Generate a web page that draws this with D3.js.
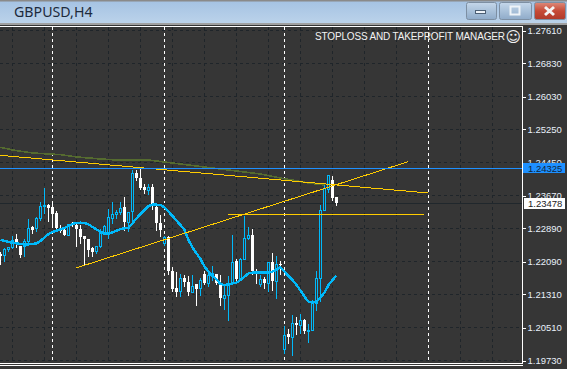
<!DOCTYPE html>
<html>
<head>
<meta charset="utf-8">
<title>GBPUSD,H4</title>
<script src="https://cdn.jsdelivr.net/npm/d3@7"></script>
<style>
  html, body { margin: 0; padding: 0; background: #363636; overflow: hidden; }
  svg { display: block; }
  text { font-family: "Liberation Sans", Arial, sans-serif; }
</style>
</head>
<body>
<div id="chart"></div>
<script>
const opens = [1.22265,1.22226,1.22369,1.22432,1.22608,1.22448,1.22464,1.22568,1.22894,1.22886,1.23117,1.23404,1.23443,1.23388,1.23244,1.22870,1.22830,1.22703,1.23006,1.22958,1.22870,1.22687,1.22608,1.22409,1.22329,1.22448,1.22727,1.22727,1.23125,1.23205,1.23268,1.23380,1.23022,1.23284,1.24184,1.24080,1.23865,1.23778,1.23865,1.23380,1.23006,1.22512,1.22671,1.21851,1.21453,1.21374,1.21692,1.21597,1.21358,1.21533,1.21453,1.21772,1.21557,1.21732,1.21772,1.21533,1.21215,1.21294,1.21557,1.22090,1.21692,1.22130,1.22639,1.22719,1.21851,1.21533,1.21676,1.21557,1.22074,1.21613,1.22027,1.19997,1.20339,1.20283,1.20618,1.20562,1.20697,1.20419,1.20442,1.21095,1.21692,1.23308,1.23817,1.24040,1.23611];
const highs = [1.22329,1.22432,1.22464,1.22703,1.22751,1.22488,1.22647,1.23125,1.22942,1.23165,1.23523,1.23865,1.23483,1.23523,1.23308,1.22966,1.22926,1.23006,1.23045,1.23006,1.22966,1.22703,1.22647,1.22464,1.22488,1.22886,1.22966,1.23364,1.23523,1.23324,1.23523,1.23642,1.23284,1.24295,1.24279,1.24319,1.23961,1.23945,1.23945,1.23483,1.23205,1.22703,1.22703,1.21971,1.21851,1.21796,1.21772,1.21748,1.21772,1.21573,1.21716,1.21891,1.21851,1.21987,1.21812,1.21772,1.21533,1.21748,1.22727,1.22170,1.22194,1.23181,1.22926,1.22886,1.21931,1.21772,1.21732,1.22090,1.22313,1.22249,1.22106,1.20554,1.20498,1.20840,1.20777,1.20856,1.20737,1.20618,1.21175,1.21891,1.23459,1.23977,1.24160,1.24136,1.23618];
const lows = [1.22034,1.22090,1.22329,1.22409,1.22432,1.22194,1.22210,1.22528,1.22751,1.22807,1.23069,1.23244,1.23045,1.22966,1.22807,1.22783,1.22703,1.22703,1.22926,1.22464,1.22512,1.21987,1.22210,1.22210,1.22289,1.22432,1.22727,1.22647,1.23006,1.23125,1.23205,1.22846,1.22807,1.23045,1.24040,1.23802,1.23722,1.23682,1.23324,1.22830,1.22687,1.22488,1.21772,1.21374,1.21254,1.21270,1.21493,1.21294,1.21350,1.21055,1.21294,1.21533,1.21493,1.21652,1.21533,1.21055,1.20936,1.20697,1.21557,1.21613,1.21668,1.22130,1.22608,1.21772,1.21573,1.21493,1.21453,1.21374,1.21398,1.21215,1.21772,1.19901,1.20124,1.19861,1.20339,1.20363,1.20363,1.20156,1.20442,1.20920,1.21135,1.23308,1.23738,1.23547,1.23443];
const closes = [1.22210,1.22385,1.22432,1.22592,1.22512,1.22226,1.22568,1.22886,1.22830,1.23117,1.23419,1.23427,1.23356,1.23220,1.22886,1.22807,1.22703,1.22966,1.22942,1.22870,1.22671,1.22608,1.22353,1.22305,1.22464,1.22767,1.22926,1.23149,1.23220,1.23268,1.23364,1.23022,1.23260,1.24184,1.24080,1.23841,1.23778,1.23865,1.23443,1.22990,1.22830,1.22671,1.21851,1.21437,1.21350,1.21692,1.21589,1.21358,1.21493,1.21437,1.21636,1.21557,1.21748,1.21812,1.21557,1.21215,1.21294,1.21557,1.22074,1.21668,1.22146,1.22647,1.22719,1.21851,1.21772,1.21676,1.21557,1.22074,1.21613,1.22027,1.21987,1.20323,1.20275,1.20618,1.20562,1.20697,1.20419,1.20458,1.21095,1.21692,1.23308,1.23841,1.24152,1.23587,1.23478];

// blue moving average, one value per candle
const maFast = [1.22608,1.22584,1.22560,1.22544,1.22528,1.22512,1.22504,1.22504,1.22512,1.22528,1.22584,1.22671,1.22751,1.22799,1.22830,1.22862,1.22894,1.22942,1.22990,1.23014,1.23022,1.23014,1.22982,1.22918,1.22862,1.22799,1.22767,1.22767,1.22791,1.22830,1.22870,1.22886,1.22894,1.23006,1.23125,1.23228,1.23324,1.23419,1.23451,1.23451,1.23443,1.23388,1.23284,1.23181,1.23069,1.22966,1.22846,1.22608,1.22432,1.22289,1.22154,1.21971,1.21851,1.21748,1.21668,1.21557,1.21533,1.21549,1.21573,1.21589,1.21652,1.21732,1.21812,1.21828,1.21828,1.21828,1.21828,1.21828,1.21851,1.21907,1.21955,1.21851,1.21748,1.21652,1.21533,1.21398,1.21254,1.21135,1.21111,1.21135,1.21238,1.21350,1.21533,1.21652,1.21756];

// olive moving average, read at a handful of candles
const maSlowIndex = [0,3,8,15,19,25,29,34,37,43,53,61,65,70,77,81];
const maSlowValue = [1.24821,1.24757,1.24685,1.24645,1.24590,1.24542,1.24518,1.24518,1.24518,1.24446,1.24327,1.24231,1.24184,1.24088,1.23969,1.23921];

const priceTicks = [1.2761,1.2683,1.2603,1.2525,1.2445,1.2367,1.2289,1.2209,1.2131,1.2051,1.1973];
const gridIndex = d3.range(3, 131, 8);
const periodIndex = [13, 41, 71, 107];

const trendA = [[-0.125, 1.24630], [106.9, 1.23730]];
const trendB = [[18.9, 1.21939], [101.9, 1.24477]];
const trendC = [[56.9, 1.23217], [105.9, 1.23217]];

const bidPrice = 1.24325;
const lastPrice = 1.23478;

const width = 567;
const height = 369;
const plotRight = 522.5;
const bg = "#363636";

const x = d3.scaleLinear().domain([0, 130.5]).range([0.5, plotRight]);
const y = d3.scaleLinear().domain([1.1973, 1.2761]).range([360.5, 30.5]);
const snap = (v) => Math.round(v - 0.5) + 0.5;

const svg = d3.select("#chart").append("svg").attr("width", width).attr("height", height);

const defs = svg.append("defs");
function gradient(id, stops) {
  const g = defs.append("linearGradient").attr("id", id).attr("x1", 0).attr("y1", 0).attr("x2", 0).attr("y2", 1);
  stops.forEach((s, i) => g.append("stop").attr("offset", i / (stops.length - 1)).attr("stop-color", s));
}
gradient("titleGrad", ["#a4c2e3", "#bcd3ea"]);
gradient("btnGrad", ["#c5d7ea", "#a9c1da", "#8fabc9"]);
gradient("closeGrad", ["#dd8a7a", "#c64a36", "#b03a2a"]);

svg.append("rect").attr("width", width).attr("height", height).attr("fill", bg);

// window title bar
svg.append("rect").attr("width", width).attr("height", 24).attr("fill", "url(#titleGrad)");
svg.append("rect").attr("width", width).attr("height", 1.5).attr("fill", "#8a8a8a");
svg.append("rect").attr("y", 23).attr("width", width).attr("height", 2).attr("fill", "#a0a0a0");
svg.append("text").attr("x", 14).attr("y", 17).attr("font-size", 14.2).attr("fill", "#1d2a3c")
  .style("font-family", "'Noto Sans', sans-serif").text("GBPUSD,H4");

const buttons = [
  { x: 466, w: 30, fill: "url(#btnGrad)" },
  { x: 499, w: 32, fill: "url(#btnGrad)" },
  { x: 534, w: 31, fill: "url(#closeGrad)" },
];
svg.append("g").selectAll("rect").data(buttons).join("rect")
  .attr("x", (d) => d.x + 0.5).attr("y", 2.5).attr("width", (d) => d.w).attr("height", 17).attr("rx", 2)
  .attr("fill", (d) => d.fill).attr("stroke", "#7d8fa3");
svg.append("rect").attr("x", 475.5).attr("y", 10.5).attr("width", 10).attr("height", 3).attr("fill", "#eef3f8").attr("stroke", "#4c5f74");
svg.append("rect").attr("x", 510.5).attr("y", 6.5).attr("width", 9).attr("height", 8).attr("fill", "none").attr("stroke", "#eef3f8").attr("stroke-width", 2);
svg.append("path").attr("d", "M545,7L554,15M554,7L545,15").attr("stroke", "#f4f4f4").attr("stroke-width", 3);

// plot frame
svg.append("line").attr("x1", 0).attr("x2", plotRight + 0.5).attr("y1", 26.5).attr("y2", 26.5).attr("stroke", "#fff");
svg.append("line").attr("x1", 0).attr("x2", plotRight + 0.5).attr("y1", 363.5).attr("y2", 363.5).attr("stroke", "#fff");
svg.append("line").attr("x1", 0).attr("x2", plotRight + 0.5).attr("y1", 365.5).attr("y2", 365.5).attr("stroke", "#fff");

// grid
const grid = svg.append("g").attr("shape-rendering", "crispEdges").attr("stroke", "#1f252a").attr("stroke-dasharray", "3,3");
grid.selectAll(".gx").data(gridIndex).join("line").attr("class", "gx")
  .attr("x1", (d) => x(d)).attr("x2", (d) => x(d)).attr("y1", 27).attr("y2", 363);
grid.selectAll(".gy").data(priceTicks).join("line").attr("class", "gy")
  .attr("x1", 0).attr("x2", plotRight).attr("y1", (d) => snap(y(d))).attr("y2", (d) => snap(y(d)));

svg.append("g").attr("shape-rendering", "crispEdges").attr("stroke", "#fff").attr("stroke-dasharray", "3,3")
  .selectAll("line").data(periodIndex).join("line")
  .attr("x1", (d) => x(d)).attr("x2", (d) => x(d)).attr("y1", 27).attr("y2", 363);

// last price line sits under the candles
svg.append("line").attr("x1", 0).attr("x2", plotRight).attr("y1", snap(y(lastPrice))).attr("y2", snap(y(lastPrice)))
  .attr("stroke", "#20272c").attr("shape-rendering", "crispEdges");

// candles
const candles = opens.map((o, i) => ({ i, o, h: highs[i], l: lows[i], c: closes[i], up: closes[i] >= o }));
const candleBlue = "#00b9fa";
const candle = svg.append("g").attr("shape-rendering", "crispEdges")
  .selectAll("g").data(candles).join("g");
candle.append("line")
  .attr("x1", (d) => x(d.i)).attr("x2", (d) => x(d.i))
  .attr("y1", (d) => snap(y(d.h))).attr("y2", (d) => snap(y(d.l)))
  .attr("stroke", (d) => (d.up ? candleBlue : "#fff"));
candle.append("rect")
  .attr("x", (d) => (d.up ? x(d.i) - 1 : x(d.i) - 1.5))
  .attr("width", (d) => (d.up ? 2 : 3))
  .attr("y", (d) => snap(y(Math.max(d.o, d.c))) - (d.up ? 0 : 0.5))
  .attr("height", (d) => Math.max(snap(y(Math.min(d.o, d.c))) - snap(y(Math.max(d.o, d.c))), 1))
  .attr("fill", (d) => (d.up ? bg : "#fff"))
  .attr("stroke", (d) => (d.up ? candleBlue : "none"));

const line = d3.line().x((d) => x(d[0])).y((d) => y(d[1]));

// moving averages
svg.append("path").attr("d", line(maSlowIndex.map((k, i) => [k, maSlowValue[i]])))
  .attr("fill", "none").attr("stroke", "#556b2f").attr("stroke-width", 1.6).attr("shape-rendering", "crispEdges");
svg.append("path").attr("d", line(maFast.map((v, i) => [i, v])))
  .attr("fill", "none").attr("stroke", candleBlue).attr("stroke-width", 2.4).attr("shape-rendering", "crispEdges");

// trend lines
svg.append("g").attr("fill", "none").attr("stroke", "#ffcc00").attr("stroke-width", 1).attr("shape-rendering", "crispEdges")
  .selectAll("path").data([trendA, trendB, trendC]).join("path").attr("d", line);

// bid line
svg.append("line").attr("x1", 0).attr("x2", plotRight).attr("y1", snap(y(bidPrice))).attr("y2", snap(y(bidPrice)))
  .attr("stroke", "#1e90ff").attr("shape-rendering", "crispEdges");

// price axis
const axis = svg.append("g").attr("transform", `translate(${plotRight},0)`)
  .call(d3.axisRight(y).tickValues(priceTicks).tickFormat(d3.format(".5f")).tickSize(3).tickPadding(2));
axis.select(".domain").attr("stroke", "#fff").attr("d", "M0,26V363");
axis.selectAll(".tick line").attr("stroke", "#fff").attr("shape-rendering", "crispEdges");
axis.selectAll(".tick text").attr("fill", "#e8f0fa").attr("font-size", 9.5).style("font-family", "'Liberation Sans', Arial, sans-serif");

// price tags
svg.append("rect").attr("x", 523).attr("y", 163).attr("width", 42).attr("height", 10).attr("fill", "#1e90ff");
svg.append("text").attr("x", 528).attr("y", 171.5).attr("font-size", 9.5).attr("fill", "#10253a").text(d3.format(".5f")(bidPrice));
svg.append("rect").attr("x", 524).attr("y", 198).attr("width", 41).attr("height", 11).attr("fill", "#fff");
svg.append("text").attr("x", 528).attr("y", 207).attr("font-size", 9.5).attr("fill", "#222").text(d3.format(".5f")(lastPrice));

// expert advisor caption
svg.append("text").attr("x", 315).attr("y", 40).attr("font-size", 10).attr("fill", "#f2f2f2")
  .attr("textLength", 190).attr("lengthAdjust", "spacing")
  .text("STOPLOSS AND TAKEPROFIT MANAGER");
svg.append("text").attr("x", 505.5).attr("y", 42).attr("font-size", 15).attr("fill", "#f2f2f2")
  .style("font-family", "'DejaVu Sans', sans-serif").text("\u263A");
</script>
</body>
</html>
